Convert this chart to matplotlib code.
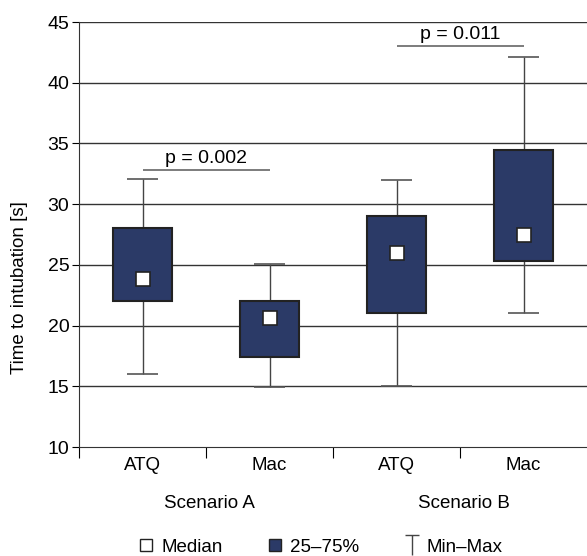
import numpy as np
import matplotlib.pyplot as plt
from matplotlib.lines import Line2D
from matplotlib.path import Path
import matplotlib.transforms as mtransforms

plt.rcParams['font.family'] = ['Liberation Sans', 'DejaVu Sans']

# values
devices = ["ATQ", "Mac", "ATQ", "Mac"]
scenarios = ["Scenario A", "Scenario B"]
mins = [16.0, 14.95, 15.0, 21.0]
q25 = [22.0, 17.4, 21.0, 25.3]
medians = [23.8, 20.6, 26.0, 27.5]
q75 = [28.0, 22.0, 29.0, 34.5]
maxs = [32.1, 25.1, 32.0, 42.1]
p_labels = ["p = 0.002", "p = 0.011"]
p_heights = [32.8, 43.0]

navy = "#2b3a67"
edge = "#222222"

fig = plt.figure(figsize=(5.87, 5.56), dpi=100)
ax = fig.add_axes([0.1346, 0.196, 0.8654, 0.7644])

x = np.arange(len(devices))
box_w = 0.47
cap_w = 0.25

# grid lines
for yv in range(15, 50, 5):
    ax.axhline(yv, color="#333333", lw=1.0, zorder=0)

for i in x:
    ax.vlines(i, mins[i], maxs[i], color="#444444", lw=1.0, zorder=1)
    ax.hlines([mins[i], maxs[i]], i - cap_w / 2, i + cap_w / 2, color="#555555", lw=1.2, zorder=1)
    ax.bar(i, q75[i] - q25[i], bottom=q25[i], width=box_w, color=navy,
           edgecolor=edge, linewidth=1.5, zorder=2)
    ax.plot(i, medians[i], marker="s", ms=10, mfc="white", mec=edge, mew=1.2, zorder=3)

# significance bars
for k, (lab, h) in enumerate(zip(p_labels, p_heights)):
    x0, x1 = 2 * k, 2 * k + 1
    ax.hlines(h, x0, x1, color="#666666", lw=1.2)
    ax.text((x0 + x1) / 2, h + 0.25, lab, ha="center", va="bottom", fontsize=14)

ax.set_xlim(-0.5, 3.5)
ax.set_ylim(10, 45)
ax.set_yticks(range(10, 50, 5))
ax.tick_params(axis="y", labelsize=14, length=5, direction="out", pad=2)
ax.set_xticks([-0.5, 0.5, 1.5, 2.5])
ax.set_xticklabels([])
ax.tick_params(axis="x", length=8, direction="out")
trans = mtransforms.blended_transform_factory(ax.transData, ax.transAxes)
for i, d in enumerate(devices):
    ax.text(i, -0.024, d, transform=trans, ha="center", va="top", fontsize=13.5)
for k, s in enumerate(scenarios):
    ax.text(2 * k + 0.53, -0.112, s, transform=trans, ha="center", va="top", fontsize=13.5)

for side in ["top", "right"]:
    ax.spines[side].set_visible(False)
ax.spines["left"].set_color("#333333")
ax.spines["bottom"].set_color("#333333")
ax.set_ylabel("Time to intubation [s]", fontsize=13.5)
ax.yaxis.set_label_coords(-0.10, 0.376)

# thin "T" marker for min-max
tee = Path([(0, -1), (0, 1), (-0.7, 1), (0.7, 1)],
           [Path.MOVETO, Path.LINETO, Path.MOVETO, Path.LINETO])
handles = [
    Line2D([], [], marker="s", ms=8, mfc="white", mec=edge, mew=1.0, ls="none"),
    Line2D([], [], marker="s", ms=8, mfc=navy, mec=edge, mew=1.0, ls="none"),
    Line2D([], [], marker=tee, ms=14, color="#444444", mew=1.0, ls="none"),
]
fig.legend(handles, ["Median", "25–75%", "Min–Max"], loc="center",
           bbox_to_anchor=(0.545, 0.016), ncol=3, frameon=False, fontsize=13.5,
           handletextpad=0.3, columnspacing=2.3, handlelength=1.0,
           borderaxespad=0, borderpad=0)

fig.savefig("out.png", dpi=100)
